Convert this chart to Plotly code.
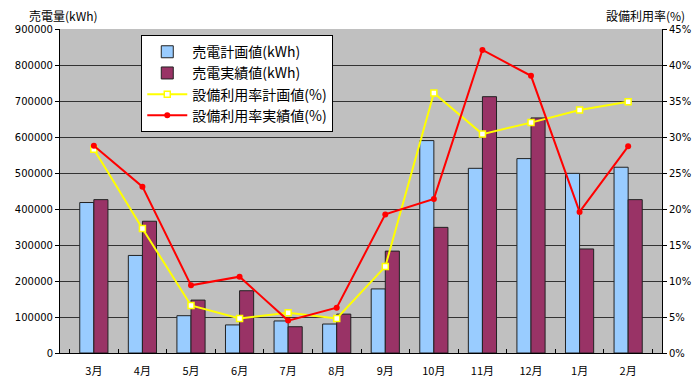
import plotly.graph_objects as go

months = ["3月", "4月", "5月", "6月", "7月", "8月", "9月", "10月", "11月", "12月", "1月", "2月"]
plan_kwh = [418000, 271000, 103600, 78000, 89000, 80500, 178000, 590000, 513000, 540000, 499000, 516000]
actual_kwh = [426000, 366000, 147000, 173000, 73000, 108000, 283000, 349000, 712000, 653000, 289000, 426000]
plan_rate = [28.3, 17.3, 6.6, 4.8, 5.6, 4.8, 12.0, 36.1, 30.4, 32.0, 33.75, 34.9]
actual_rate = [28.8, 23.1, 9.4, 10.6, 4.5, 6.3, 19.25, 21.4, 42.1, 38.5, 19.6, 28.7]

font_jp = "Noto Sans CJK JP"

fig = go.Figure()
fig.add_trace(go.Bar(x=months, y=plan_kwh, name="売電計画値(kWh)",
                     marker=dict(color="#99CCFF", line=dict(color="#222222", width=1))))
fig.add_trace(go.Bar(x=months, y=actual_kwh, name="売電実績値(kWh)",
                     marker=dict(color="#993366", line=dict(color="#222222", width=1))))
fig.add_trace(go.Scatter(x=months, y=plan_rate, name="設備利用率計画値(%)", yaxis="y2",
                         mode="lines+markers",
                         line=dict(color="#FFFF00", width=2),
                         marker=dict(symbol="square", size=6, color="white",
                                     line=dict(color="#FFFF00", width=1.5))))
fig.add_trace(go.Scatter(x=months, y=actual_rate, name="設備利用率実績値(%)", yaxis="y2",
                         mode="lines+markers",
                         line=dict(color="#FF0000", width=2),
                         marker=dict(symbol="circle", size=6, color="#FF0000")))

fig.update_layout(
    width=692, height=379,
    margin=dict(l=52, r=38, t=21, b=34),
    paper_bgcolor="white",
    plot_bgcolor="#C0C0C0",
    barmode="group",
    bargap=0.42,
    bargroupgap=0,
    font=dict(family=font_jp, size=11, color="black"),
    showlegend=True,
    legend=dict(x=0.135, y=0.981, xanchor="left", yanchor="top",
                bgcolor="white", bordercolor="black", borderwidth=1,
                font=dict(family=font_jp, size=14), traceorder="normal",
                itemwidth=40),
    xaxis=dict(showline=True, linecolor="black", linewidth=1,
               ticks="inside", tickson="boundaries", ticklen=4, tickcolor="black",
               tickfont=dict(family=font_jp, size=11), showgrid=False,
               ticklabelstandoff=8, automargin=False),
    yaxis=dict(range=[0, 900000], dtick=100000, tickformat="d",
               showline=True, linecolor="black", linewidth=1,
               ticks="outside", ticklen=4, tickcolor="black",
               showgrid=True, gridcolor="#333333", gridwidth=1,
               zeroline=False, automargin=False,
               tickfont=dict(family="DejaVu Sans", size=10)),
    yaxis2=dict(range=[0, 45], dtick=5, ticksuffix="%", overlaying="y", side="right",
                showline=True, linecolor="black", linewidth=1,
                ticks="outside", ticklen=4, tickcolor="black",
                showgrid=False, zeroline=False, automargin=False,
                tickfont=dict(family="DejaVu Sans", size=10)),
    annotations=[
        dict(text="売電量(kWh)", xref="paper", yref="paper", x=-0.055, y=1.0,
             xanchor="left", yanchor="bottom", showarrow=False, yshift=3,
             font=dict(family=font_jp, size=12)),
        dict(text="設備利用率(%)", xref="paper", yref="paper", x=1.042, y=1.0,
             xanchor="right", yanchor="bottom", showarrow=False, yshift=3,
             font=dict(family=font_jp, size=12)),
    ],
)

fig.write_html("out.html")
